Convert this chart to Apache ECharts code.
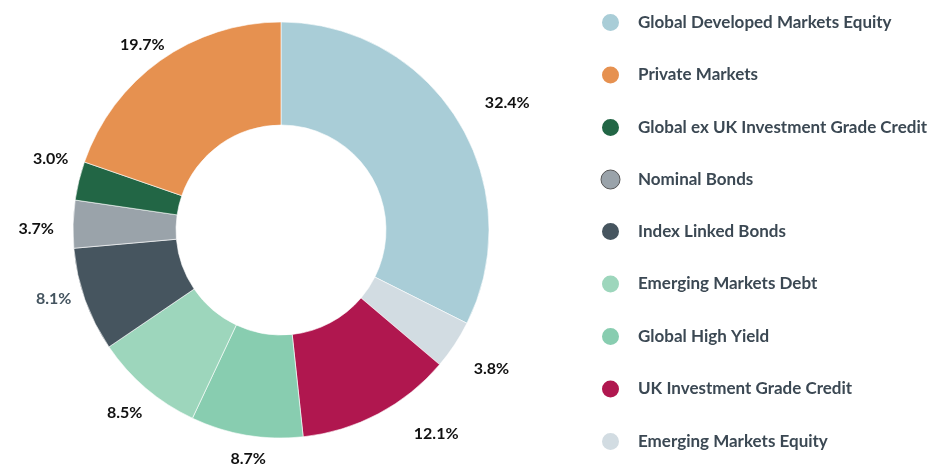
<!DOCTYPE html>
<html>
<head>
<meta charset="utf-8">
<script src="https://cdn.jsdelivr.net/npm/echarts@6/dist/echarts.min.js"></script>
<style>
html,body{margin:0;padding:0;background:#fff;}
#chart{width:932px;height:464px;}
</style>
</head>
<body>
<div id="chart"></div>
<script>
// Slices in clockwise order from 12 o'clock
var categories = [
  'Global Developed Markets Equity',
  'Emerging Markets Equity',
  'UK Investment Grade Credit',
  'Global High Yield',
  'Emerging Markets Debt',
  'Index Linked Bonds',
  'Nominal Bonds',
  'Global ex UK Investment Grade Credit',
  'Private Markets'
];
var values = [32.4, 3.8, 12.1, 8.7, 8.5, 8.1, 3.7, 3.0, 19.7];
var colors = ['#a9cdd7', '#d2dce2', '#b0174f', '#88cdb0', '#9dd6bc', '#46555f', '#9aa3aa', '#226645', '#e69150'];
var labelColors = ['#111', '#111', '#111', '#111', '#111', '#44545f', '#111', '#111', '#111'];
var legendOrder = [
  'Global Developed Markets Equity',
  'Private Markets',
  'Global ex UK Investment Grade Credit',
  'Nominal Bonds',
  'Index Linked Bonds',
  'Emerging Markets Debt',
  'Global High Yield',
  'UK Investment Grade Credit',
  'Emerging Markets Equity'
];

var FONT = 'Lato, "Open Sans", sans-serif';
var chart = echarts.init(document.getElementById('chart'), null, {renderer: 'canvas'});

// small manual label nudges (label styling only)
var labelNudge = {
  'UK Investment Grade Credit': [40, -14],
  'Global Developed Markets Equity': [8, 8],
  'Global ex UK Investment Grade Credit': [5, -14],
  'Index Linked Bonds': [1, -13],
  'Nominal Bonds': [-4, 6],
  'Private Markets': [2, 12],
  'Global High Yield': [6, -2]
};

var data = categories.map(function (c, i) {
  return {
    name: c,
    value: values[i],
    itemStyle: {color: colors[i]},
    label: {color: labelColors[i]}
  };
});

chart.setOption({
  animation: false,
  legend: {
    type: 'plain',
    orient: 'vertical',
    left: 595,
    top: 7,
    height: 460,
    icon: 'circle',
    itemWidth: 19,
    itemHeight: 19,
    itemGap: 31.5,
    data: legendOrder.map(function (n) {
      if (n === 'Nominal Bonds') {
        return {name: n, itemStyle: {borderColor: '#555', borderWidth: 1}};
      }
      return {name: n};
    }),
    textStyle: {
      color: '#3b4853',
      fontFamily: FONT,
      fontWeight: 'bold',
      fontSize: 17,
      padding: [0, 0, 0, 13]
    },
    selectedMode: false
  },
  series: [{
    type: 'pie',
    center: [281, 230],
    radius: [105, 208],
    startAngle: 90,
    clockwise: true,
    avoidLabelOverlap: false,
    itemStyle: {borderColor: '#fff', borderWidth: 0.6},
    label: {
      show: true,
      position: 'outside',
      formatter: function (p) { return p.value.toFixed(1) + '%'; },
      fontFamily: FONT,
      fontWeight: 'bold',
      fontSize: 16
    },
    labelLine: {show: true, length: 10, length2: 0, lineStyle: {opacity: 0}},
    labelLayout: function (p) {
      var pts = p.labelLinePoints;
      if (!pts || pts.length < 2) return {};
      var dx = pts[1][0] - pts[0][0];
      var dy = pts[1][1] - pts[0][1];
      var len = Math.sqrt(dx * dx + dy * dy) || 1;
      var ux = dx / len, uy = dy / len;
      var w = p.labelRect.width, h = p.labelRect.height;
      var extent = Math.abs(ux) * w / 2 + Math.abs(uy) * h / 2;
      var gap = 15 + 12 * Math.max(0, ux);
      var d = extent + gap;
      var nudge = labelNudge[categories[p.dataIndex]] || [0, 0];
      return {
        x: pts[0][0] + ux * d + nudge[0],
        y: pts[0][1] + uy * d + nudge[1],
        align: 'center',
        verticalAlign: 'middle'
      };
    },
    emphasis: {disabled: true},
    data: data
  }]
});
</script>
</body>
</html>
